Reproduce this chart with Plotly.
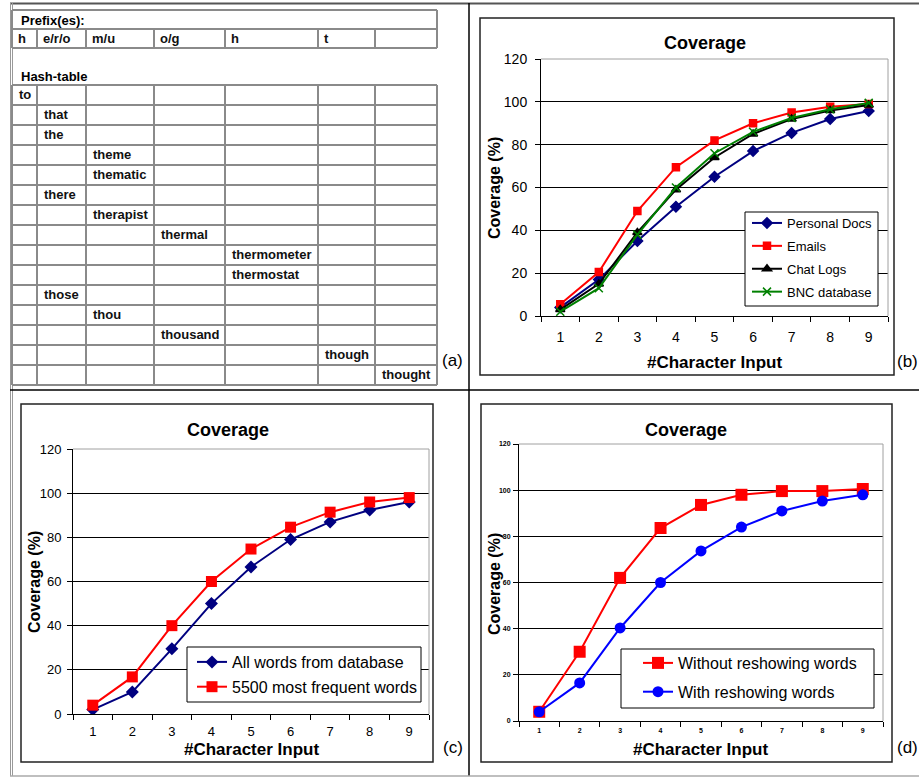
import plotly.graph_objects as go

W, H = 919, 777

# ---------------- data ----------------
x_labels = ["1", "2", "3", "4", "5", "6", "7", "8", "9"]
y_ticks = [0, 20, 40, 60, 80, 100, 120]

b_personal_docs = [4, 17, 35, 51, 65, 77, 85.5, 92, 95.7]
b_emails = [5.5, 20.5, 49, 69.5, 82, 90, 95, 97.7, 99]
b_chat_logs = [3, 15, 39, 59, 74, 85, 92, 96, 98.5]
b_bnc_database = [2, 13, 38, 60, 76, 86, 92.5, 96.5, 99.5]

c_all_words = [2, 10, 29.5, 50, 66.6, 79, 87, 92.4, 96]
c_5500_words = [4, 16.8, 40, 60, 74.7, 84.6, 91.4, 96, 98]

d_without_reshowing = [4, 30, 62, 83.6, 93.6, 98, 99.6, 99.6, 100.5]
d_with_reshowing = [4, 16.5, 40.3, 60, 73.7, 84, 91, 95.3, 98]

prefix_labels = ["h", "e/r/o", "m/u", "o/g", "h", "t", ""]
hash_words = ["to", "that", "the", "theme", "thematic", "there", "therapist",
              "thermal", "thermometer", "thermostat", "those", "thou",
              "thousand", "though", "thought"]
hash_cols = [0, 1, 1, 2, 2, 1, 2, 3, 4, 4, 1, 2, 3, 5, 6]

# ---------------- layout constants (pixels) ----------------
COL_EDGES = [12, 37, 86, 154, 225, 318, 375, 437]
PREFIX_TOP, PREFIX_MID, PREFIX_BOT = 10, 29, 48
HASH_TOP, ROW_H = 85, 20
FONT = "Liberation Sans"
TABLE_LINE = "#8a8a8a"

fig = go.Figure()

# ---- panel (b)
b_specs = [
    ("Personal Docs", b_personal_docs, "#000080", "diamond", 8),
    ("Emails", b_emails, "#ff0000", "square", 7),
    ("Chat Logs", b_chat_logs, "#000000", "triangle-up", 8),
    ("BNC database", b_bnc_database, "#008000", "x-thin", 8),
]
for name, vals, col, sym, sz in b_specs:
    fig.add_trace(go.Scatter(
        x=x_labels, y=vals, name=name, mode="lines+markers",
        line=dict(color=col, width=2),
        marker=dict(symbol=sym, size=sz, color=col, line=dict(color=col, width=1.5)),
        xaxis="x", yaxis="y", legend="legend", legendgroup=name))

# ---- panel (c)
c_specs = [
    ("All words from database", c_all_words, "#000080", "diamond", 10),
    ("5500 most frequent words", c_5500_words, "#ff0000", "square", 11),
]
for name, vals, col, sym, sz in c_specs:
    fig.add_trace(go.Scatter(
        x=x_labels, y=vals, name=name, mode="lines+markers",
        line=dict(color=col, width=2),
        marker=dict(symbol=sym, size=sz, color=col),
        xaxis="x2", yaxis="y2", legend="legend2", legendgroup=name))

# ---- panel (d)
d_specs = [
    ("Without reshowing words", d_without_reshowing, "#ff0000", "square", 12),
    ("With reshowing words", d_with_reshowing, "#0000ff", "circle", 11),
]
for name, vals, col, sym, sz in d_specs:
    fig.add_trace(go.Scatter(
        x=x_labels, y=vals, name=name, mode="lines+markers",
        line=dict(color=col, width=2),
        marker=dict(symbol=sym, size=sz, color=col),
        xaxis="x3", yaxis="y3", legend="legend3", legendgroup=name))

# ---- panel (a) : table words on a pixel axis
word_x = [COL_EDGES[c] + 7 for c in hash_cols]
word_y = [HASH_TOP + ROW_H * i + ROW_H / 2 + 1 for i in range(len(hash_words))]
fig.add_trace(go.Scatter(
    x=word_x, y=word_y, text=hash_words, mode="text", textposition="middle right",
    textfont=dict(family=FONT, size=13, color="#111", weight="bold"),
    xaxis="x4", yaxis="y4", showlegend=False, cliponaxis=False, hoverinfo="skip"))
pre_x = [COL_EDGES[i] + 6 for i in range(len(prefix_labels))]
pre_y = [(PREFIX_MID + PREFIX_BOT) / 2 + 1] * len(prefix_labels)
fig.add_trace(go.Scatter(
    x=pre_x, y=pre_y, text=prefix_labels, mode="text", textposition="middle right",
    textfont=dict(family=FONT, size=13, color="#111", weight="bold"),
    xaxis="x4", yaxis="y4", showlegend=False, cliponaxis=False, hoverinfo="skip"))


def px(p):
    return p / W


def py(p):
    return 1 - p / H


def xaxis_cfg(x0, x1, anchor, fsize, standoff, bold=False):
    return dict(domain=[px(x0), px(x1)], anchor=anchor, type="category",
                categoryorder="array", categoryarray=x_labels, range=[-0.5, 8.5],
                tickson="boundaries", ticks="outside", ticklen=5, tickcolor="black",
                showline=True, linecolor="black", linewidth=1, showgrid=False,
                automargin=False,
                tickfont=dict(family=FONT, size=fsize, color="black",
                              weight="bold" if bold else "normal"),
                ticklabelstandoff=standoff, fixedrange=True)


def yaxis_cfg(y_bot, y_top, anchor, fsize, standoff, bold=False):
    return dict(domain=[py(y_bot), py(y_top)], anchor=anchor, range=[0, 120],
                tickmode="array", tickvals=y_ticks, ticks="outside", ticklen=5,
                tickcolor="black", showline=True, linecolor="black", linewidth=1,
                showgrid=True, gridcolor="black", gridwidth=1, zeroline=False,
                automargin=False,
                tickfont=dict(family=FONT, size=fsize, color="black",
                              weight="bold" if bold else "normal"),
                ticklabelstandoff=standoff, fixedrange=True)


shapes = []
annotations = []


def line(x0, y0, x1, y1, color="black", width=1, ref=("x4", "y4")):
    shapes.append(dict(type="line", xref=ref[0], yref=ref[1], x0=x0, y0=y0,
                       x1=x1, y1=y1, line=dict(color=color, width=width), layer="above"))


def text(x, y, s, size, bold=False, angle=0, family=FONT, anchor="center"):
    annotations.append(dict(xref="x4", yref="y4", x=x, y=y, text=s, showarrow=False,
                            xanchor=anchor, yanchor="middle", textangle=angle,
                            font=dict(family=family, size=size, color="black",
                                      weight="bold" if bold else "normal")))


# outer borders / dividers
line(10, 3.5, W, 3.5, "#555", 2)
line(10.5, 3, 10.5, 776, "#999", 1)
line(12.5, 3, 12.5, 776, "#999", 1)
line(469, 3, 469, 776, "black", 1.5)
line(10, 390, W, 390, "black", 1.5)
line(10, 776, W, 776, "#aaa", 1.5)

# panel frames
for (x0, y0, x1, y1) in [(480, 18, 894, 375), (21, 404, 433, 762), (481, 404, 892, 762)]:
    shapes.append(dict(type="rect", xref="x4", yref="y4", x0=x0, y0=y0, x1=x1, y1=y1,
                       line=dict(color="#222", width=1.5), layer="below"))

# gray top/right borders of plot areas
for xa, ya in [("x", "y"), ("x2", "y2"), ("x3", "y3")]:
    for (a0, b0, a1, b1) in [(0, 1, 1, 1), (1, 0, 1, 1)]:
        shapes.append(dict(type="line", xref=xa + " domain", yref=ya + " domain",
                           x0=a0, y0=b0, x1=a1, y1=b1,
                           line=dict(color="#a0a0a0", width=1), layer="above"))

# legend boxes
for (x0, y0, x1, y1) in [(745, 212, 878, 306), (187, 647, 421, 702), (621, 649, 874, 708)]:
    shapes.append(dict(type="rect", xref="x4", yref="y4", x0=x0, y0=y0, x1=x1, y1=y1,
                       fillcolor="white", line=dict(color="black", width=1), layer="above"))

# table (a): prefix box
for yy in [PREFIX_TOP, PREFIX_MID, PREFIX_BOT]:
    line(COL_EDGES[0], yy, COL_EDGES[-1], yy, TABLE_LINE, 2)
line(COL_EDGES[0], PREFIX_TOP, COL_EDGES[0], PREFIX_BOT, TABLE_LINE, 2)
line(COL_EDGES[-1], PREFIX_TOP, COL_EDGES[-1], PREFIX_BOT, TABLE_LINE, 2)
for xx in COL_EDGES[1:-1]:
    line(xx, PREFIX_MID, xx, PREFIX_BOT, TABLE_LINE, 2)
# hash table grid
n_rows = len(hash_words)
for i in range(n_rows + 1):
    yy = HASH_TOP + ROW_H * i
    line(COL_EDGES[0], yy, COL_EDGES[-1], yy, TABLE_LINE, 2)
for xx in COL_EDGES:
    line(xx, HASH_TOP, xx, HASH_TOP + ROW_H * n_rows, TABLE_LINE, 2)

text(19, 20, "Prefix(es):", 13, bold=True, anchor="left")
text(19, 76, "Hash-table", 13, bold=True, anchor="left")

# chart titles and axis titles
text(705, 43, "Coverage", 18, bold=True)
text(228, 430, "Coverage", 18, bold=True)
text(686, 430, "Coverage", 18, bold=True)
text(714, 362, "#Character Input", 17, bold=True)
text(251, 749, "#Character Input", 17, bold=True)
text(700, 749, "#Character Input", 17, bold=True)
text(494, 188, "Coverage (%)", 16, bold=True, angle=-90)
text(34, 582, "Coverage (%)", 16, bold=True, angle=-90)
text(494, 584, "Coverage (%)", 16, bold=True, angle=-90)

# panel letters
text(452, 360, "(a)", 17)
text(907, 361, "(b)", 17)
text(453, 747, "(c)", 17)
text(907, 747, "(d)", 17)


def legend_cfg(x, y, size, gap):
    return dict(x=px(x), y=py(y), xanchor="left", yanchor="top",
                bgcolor="rgba(0,0,0,0)", borderwidth=0, tracegroupgap=gap,
                font=dict(family=FONT, size=size, color="black"), itemwidth=30,
                itemclick=False, itemdoubleclick=False)


fig.update_layout(
    width=W, height=H, autosize=False,
    margin=dict(l=0, r=0, t=0, b=0, pad=0, autoexpand=False),
    paper_bgcolor="white", plot_bgcolor="rgba(0,0,0,0)",
    xaxis=xaxis_cfg(541, 888, "y", 14, 8),
    yaxis=yaxis_cfg(316, 59, "x", 14, 5),
    xaxis2=xaxis_cfg(73, 429, "y2", 13, 5),
    yaxis2=yaxis_cfg(714, 449, "x2", 13, 3),
    xaxis3=xaxis_cfg(519, 883, "y3", 7, 3, bold=True),
    yaxis3=yaxis_cfg(721, 444, "x3", 7, 1, bold=True),
    xaxis4=dict(domain=[0, 1], range=[0, W], anchor="y4", visible=False,
                fixedrange=True, automargin=False),
    yaxis4=dict(domain=[0, 1], range=[H, 0], anchor="x4", visible=False,
                fixedrange=True, automargin=False),
    legend=legend_cfg(747, 208, 13, 3),
    legend2=legend_cfg(192, 645, 16, 1),
    legend3=legend_cfg(638, 646, 16, 5),
    shapes=shapes, annotations=annotations,
    showlegend=True,
)

fig.write_html(
    "out.html",
    config={"displayModeBar": False},
    post_script="document.body.style.margin='0';document.body.style.overflow='hidden';",
)
